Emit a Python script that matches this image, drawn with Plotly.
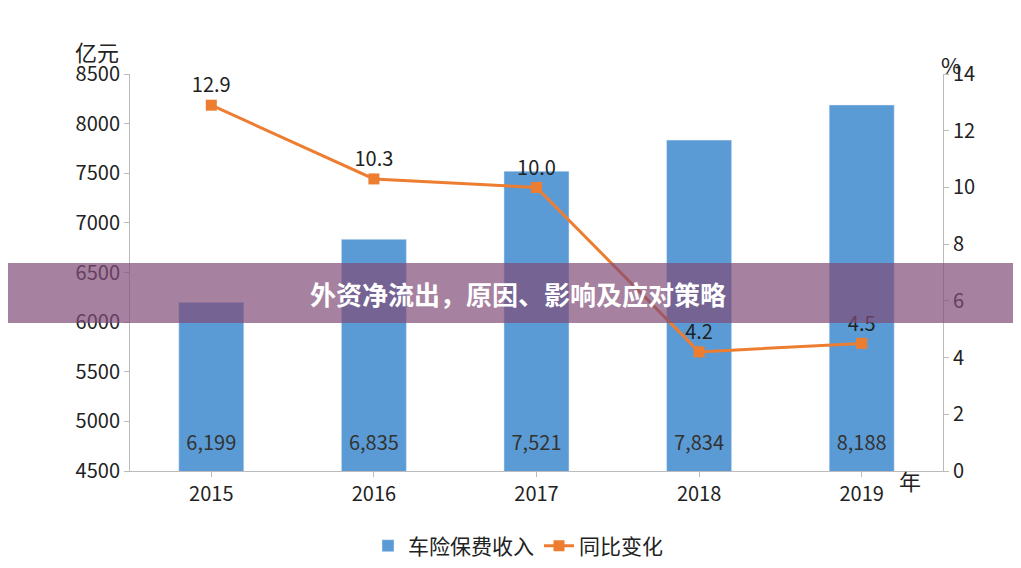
import plotly.graph_objects as go

years = ["2015", "2016", "2017", "2018", "2019"]
income = [6199, 6835, 7521, 7834, 8188]
growth = [12.9, 10.3, 10.0, 4.2, 4.5]
income_labels = ["6,199", "6,835", "7,521", "7,834", "8,188"]
growth_labels = ["12.9", "10.3", "10.0", "4.2", "4.5"]
label_level = [4760] * 5

font = "Noto Sans CJK SC"
L, R, T, B = 122, 86, 66, 105
pw, ph = 1021 - L - R, 568 - T - B
def px(xp, yp):
    return (xp - L) / pw, (568 - B - yp) / ph

fig = go.Figure()
fig.add_trace(go.Bar(x=years, y=income, name="车险保费收入", marker_color="#5B9BD5", width=0.4))
fig.add_trace(go.Scatter(x=years, y=label_level, mode="text", text=income_labels,
                         textfont=dict(size=20, color="#333333"), showlegend=False, hoverinfo="skip"))
fig.add_trace(go.Scatter(x=years, y=growth, name="同比变化", yaxis="y2",
                         mode="lines+markers+text", text=growth_labels,
                         textposition="top center", textfont=dict(size=20, color="#222"),
                         line=dict(color="#ED7D31", width=3),
                         marker=dict(symbol="square", size=11, color="#ED7D31")))
lx, ly = px(510, 538)
fig.update_layout(
    width=1021, height=568, plot_bgcolor="white", paper_bgcolor="white",
    margin=dict(l=L, r=R, t=T, b=B, autoexpand=False),
    font=dict(family=font, size=20, color="#222"),
    showlegend=True,
    legend=dict(orientation="h", x=lx, xanchor="center", y=ly, yanchor="middle",
                font=dict(size=21), traceorder="normal"),
    xaxis=dict(showline=True, linecolor="#bbb", ticks="outside", tickcolor="#bbb",
               tickfont=dict(size=20)),
    yaxis=dict(range=[4500, 8500], dtick=500, showgrid=False, showline=True,
               linecolor="#bbb", ticks="outside", tickcolor="#bbb", zeroline=False),
    yaxis2=dict(range=[0, 14], dtick=2, overlaying="y", side="right", showgrid=False,
                showline=True, linecolor="#bbb", ticks="outside", tickcolor="#bbb"),
)
anns = [("亿元", 65, 25, 22, "#222", False), ("%", 955, 38, 22, "#222", False),
        ("年", 915, 490, 22, "#222", False),
        ("<b>外资净流出，原因、影响及应对策略</b>", 510, 285, 26, "white", True)]
for t, x, y, s, c, _ in anns:
    ax, ay = px(x, y)
    fig.add_annotation(text=t, x=ax, y=ay, xref="paper", yref="paper", showarrow=False,
                       font=dict(size=s, color=c))
y0 = (568 - B - 315) / ph; y1 = (568 - B - 255) / ph
fig.add_shape(type="rect", xref="paper", yref="paper", x0=-L / pw, x1=(1021 - L) / pw,
              y0=y0, y1=y1, fillcolor="rgba(128,75,120,0.7)", line=dict(width=0), layer="above")
fig.write_html("out.html")
